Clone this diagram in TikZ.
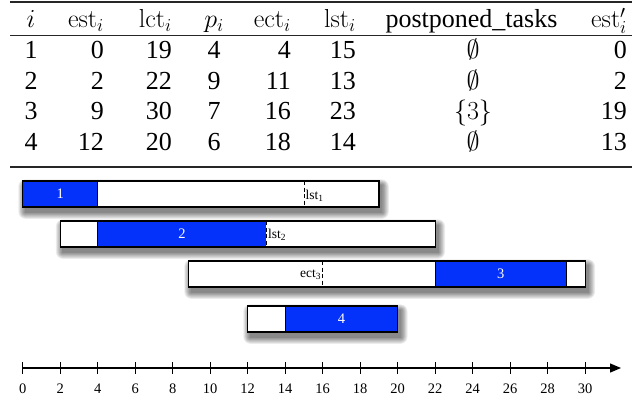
\RequirePackage{fix-cm}
\documentclass[tikz,border=0pt]{standalone}
\usepackage[no-math]{fontspec}
\setmainfont{Liberation Serif}
\usetikzlibrary{arrows.meta}
\definecolor{barblue}{RGB}{5,50,250}
\newcommand\softshadow[4]{%
  \foreach \r in {0,...,7}{%
    \fill[black,opacity=0.075,rounded corners=\r pt]
      ([xshift={2pt-0.9pt*\r},yshift={-4pt+0.8pt*\r}]#1,#2) rectangle
      ([xshift={3.5pt+0.9pt*\r},yshift={-5.5pt-0.9pt*\r}]#3,#4);
  }}
% y1 y2 start end bluestart blueend
\newcommand\taskbar[6]{%
  \softshadow{#3}{#1}{#4}{#2}
  \fill[white] (#3,#1) rectangle (#4,#2);
  \fill[barblue] (#5,#1) rectangle (#6,#2);
  \draw[bline] (#3,#1) rectangle (#4,#2);
}
\begin{document}
\begin{tikzpicture}[x=1pt,y=-1pt,
  tab/.style={inner sep=0pt,font=\fontsize{26}{30}\selectfont},
  bline/.style={line width=1.2pt,black},
  dline/.style={line width=0.8pt,black,dash pattern=on 4pt off 2.5pt},
  blabel/.style={inner sep=0pt,text=white,font=\fontsize{14.5}{16}\selectfont},
  mlabel/.style={inner sep=1.5pt,font=\fontsize{13.5}{15}\selectfont},
  axlabel/.style={inner sep=0pt,font=\fontsize{14.5}{16}\selectfont},
  thickrule/.style={line width=1.5pt,black!85},
  thinrule/.style={line width=0.9pt,black!85}]
\useasboundingbox (0,0) rectangle (634,400);

% ---------- table ----------
\coordinate (tr0) at (10,2);  \coordinate (tr1) at (632,2);
\coordinate (mr0) at (10,35); \coordinate (mr1) at (632,35);
\coordinate (br0) at (10,167); \coordinate (br1) at (632,167);
\draw[thickrule] (tr0) -- (tr1);
\draw[thinrule] (mr0) -- (mr1);
\draw[thickrule] (br0) -- (br1);

\node[tab,anchor=base] (h1) at (31,27.5) {$i$};
\node[tab,anchor=base east] (h2) at (104,27.5) {$\mathrm{est}_i$};
\node[tab,anchor=base east] (h3) at (172,27.5) {$\mathrm{lct}_i$};
\node[tab,anchor=base] (h4) at (214,27.5) {$p_i$};
\node[tab,anchor=base east] (h5) at (291,27.5) {$\mathrm{ect}_i$};
\node[tab,anchor=base east] (h6) at (356,27.5) {$\mathrm{lst}_i$};
\node[tab,anchor=base] (h7) at (471.5,27.5) {postponed\_tasks};
\node[tab,anchor=base east] (h8) at (627,27.5) {$\mathrm{est}'_i$};

\foreach \rw/\yy/\a/\b/\c/\d/\e/\f/\g/\h in {
  1/58/1/0/19/4/4/15/{$\emptyset$}/0,
  2/89/2/2/22/9/11/13/{$\emptyset$}/2,
  3/119.5/3/9/30/7/16/23/{$\{3\}$}/19,
  4/150/4/12/20/6/18/14/{$\emptyset$}/13}{
  \node[tab,anchor=base] (c\rw-1) at (31,\yy) {\a};
  \node[tab,anchor=base east] (c\rw-2) at (104,\yy) {\b};
  \node[tab,anchor=base east] (c\rw-3) at (172,\yy) {\c};
  \node[tab,anchor=base] (c\rw-4) at (214,\yy) {\d};
  \node[tab,anchor=base east] (c\rw-5) at (291,\yy) {\e};
  \node[tab,anchor=base east] (c\rw-6) at (356,\yy) {\f};
  \node[tab,anchor=base] (c\rw-7) at (473,\yy) {\g};
  \node[tab,anchor=base east] (c\rw-8) at (627,\yy) {\h};
}

% ---------- bars and axis ----------
\begin{scope}[x=18.75pt,xshift=22.7pt]
  % task 1
  \taskbar{181}{207}{0}{19}{0}{4}
  \draw[bline] (4,181) -- (4,207);
  \draw[dline] (15,181) -- (15,207);
  \node[blabel] (n1) at (2,194) {1};
  \node[mlabel,anchor=west] (l1) at (15,196) {lst\textsubscript{1}};
  % task 2
  \taskbar{221}{247}{2}{22}{4}{13}
  \draw[bline] (4,221) -- (4,247);
  \draw[dline] (13,221) -- (13,247);
  \node[blabel] (n2) at (8.5,234) {2};
  \node[mlabel,anchor=west] (l2) at (13,235) {lst\textsubscript{2}};
  % task 3
  \taskbar{261}{287}{8.85}{30}{22}{29}
  \draw[bline] (22,261) -- (22,287) (29,261) -- (29,287);
  \draw[dline] (16,261) -- (16,287);
  \node[blabel] (n3) at (25.5,274) {3};
  \node[mlabel,anchor=east] (l3) at (16,275) {ect\textsubscript{3}};
  % task 4
  \taskbar{306}{332}{12}{20}{14}{20}
  \draw[bline] (14,306) -- (14,332);
  \node[blabel] (n4) at (17,319) {4};

  % axis
  \coordinate (ax0) at (0,368);
  \coordinate (ax1) at ({(621-22.7)/18.75},368);
  \draw[bline,-{Triangle[length=11pt,width=9pt]}] (ax0) -- (ax1);
  \foreach \k in {0,2,...,30}{
    \draw[bline] (\k,362) -- (\k,374);
    \node[axlabel,anchor=base] (t\k) at (\k,393) {\k};
  }
\end{scope}
\end{tikzpicture}
\end{document}
